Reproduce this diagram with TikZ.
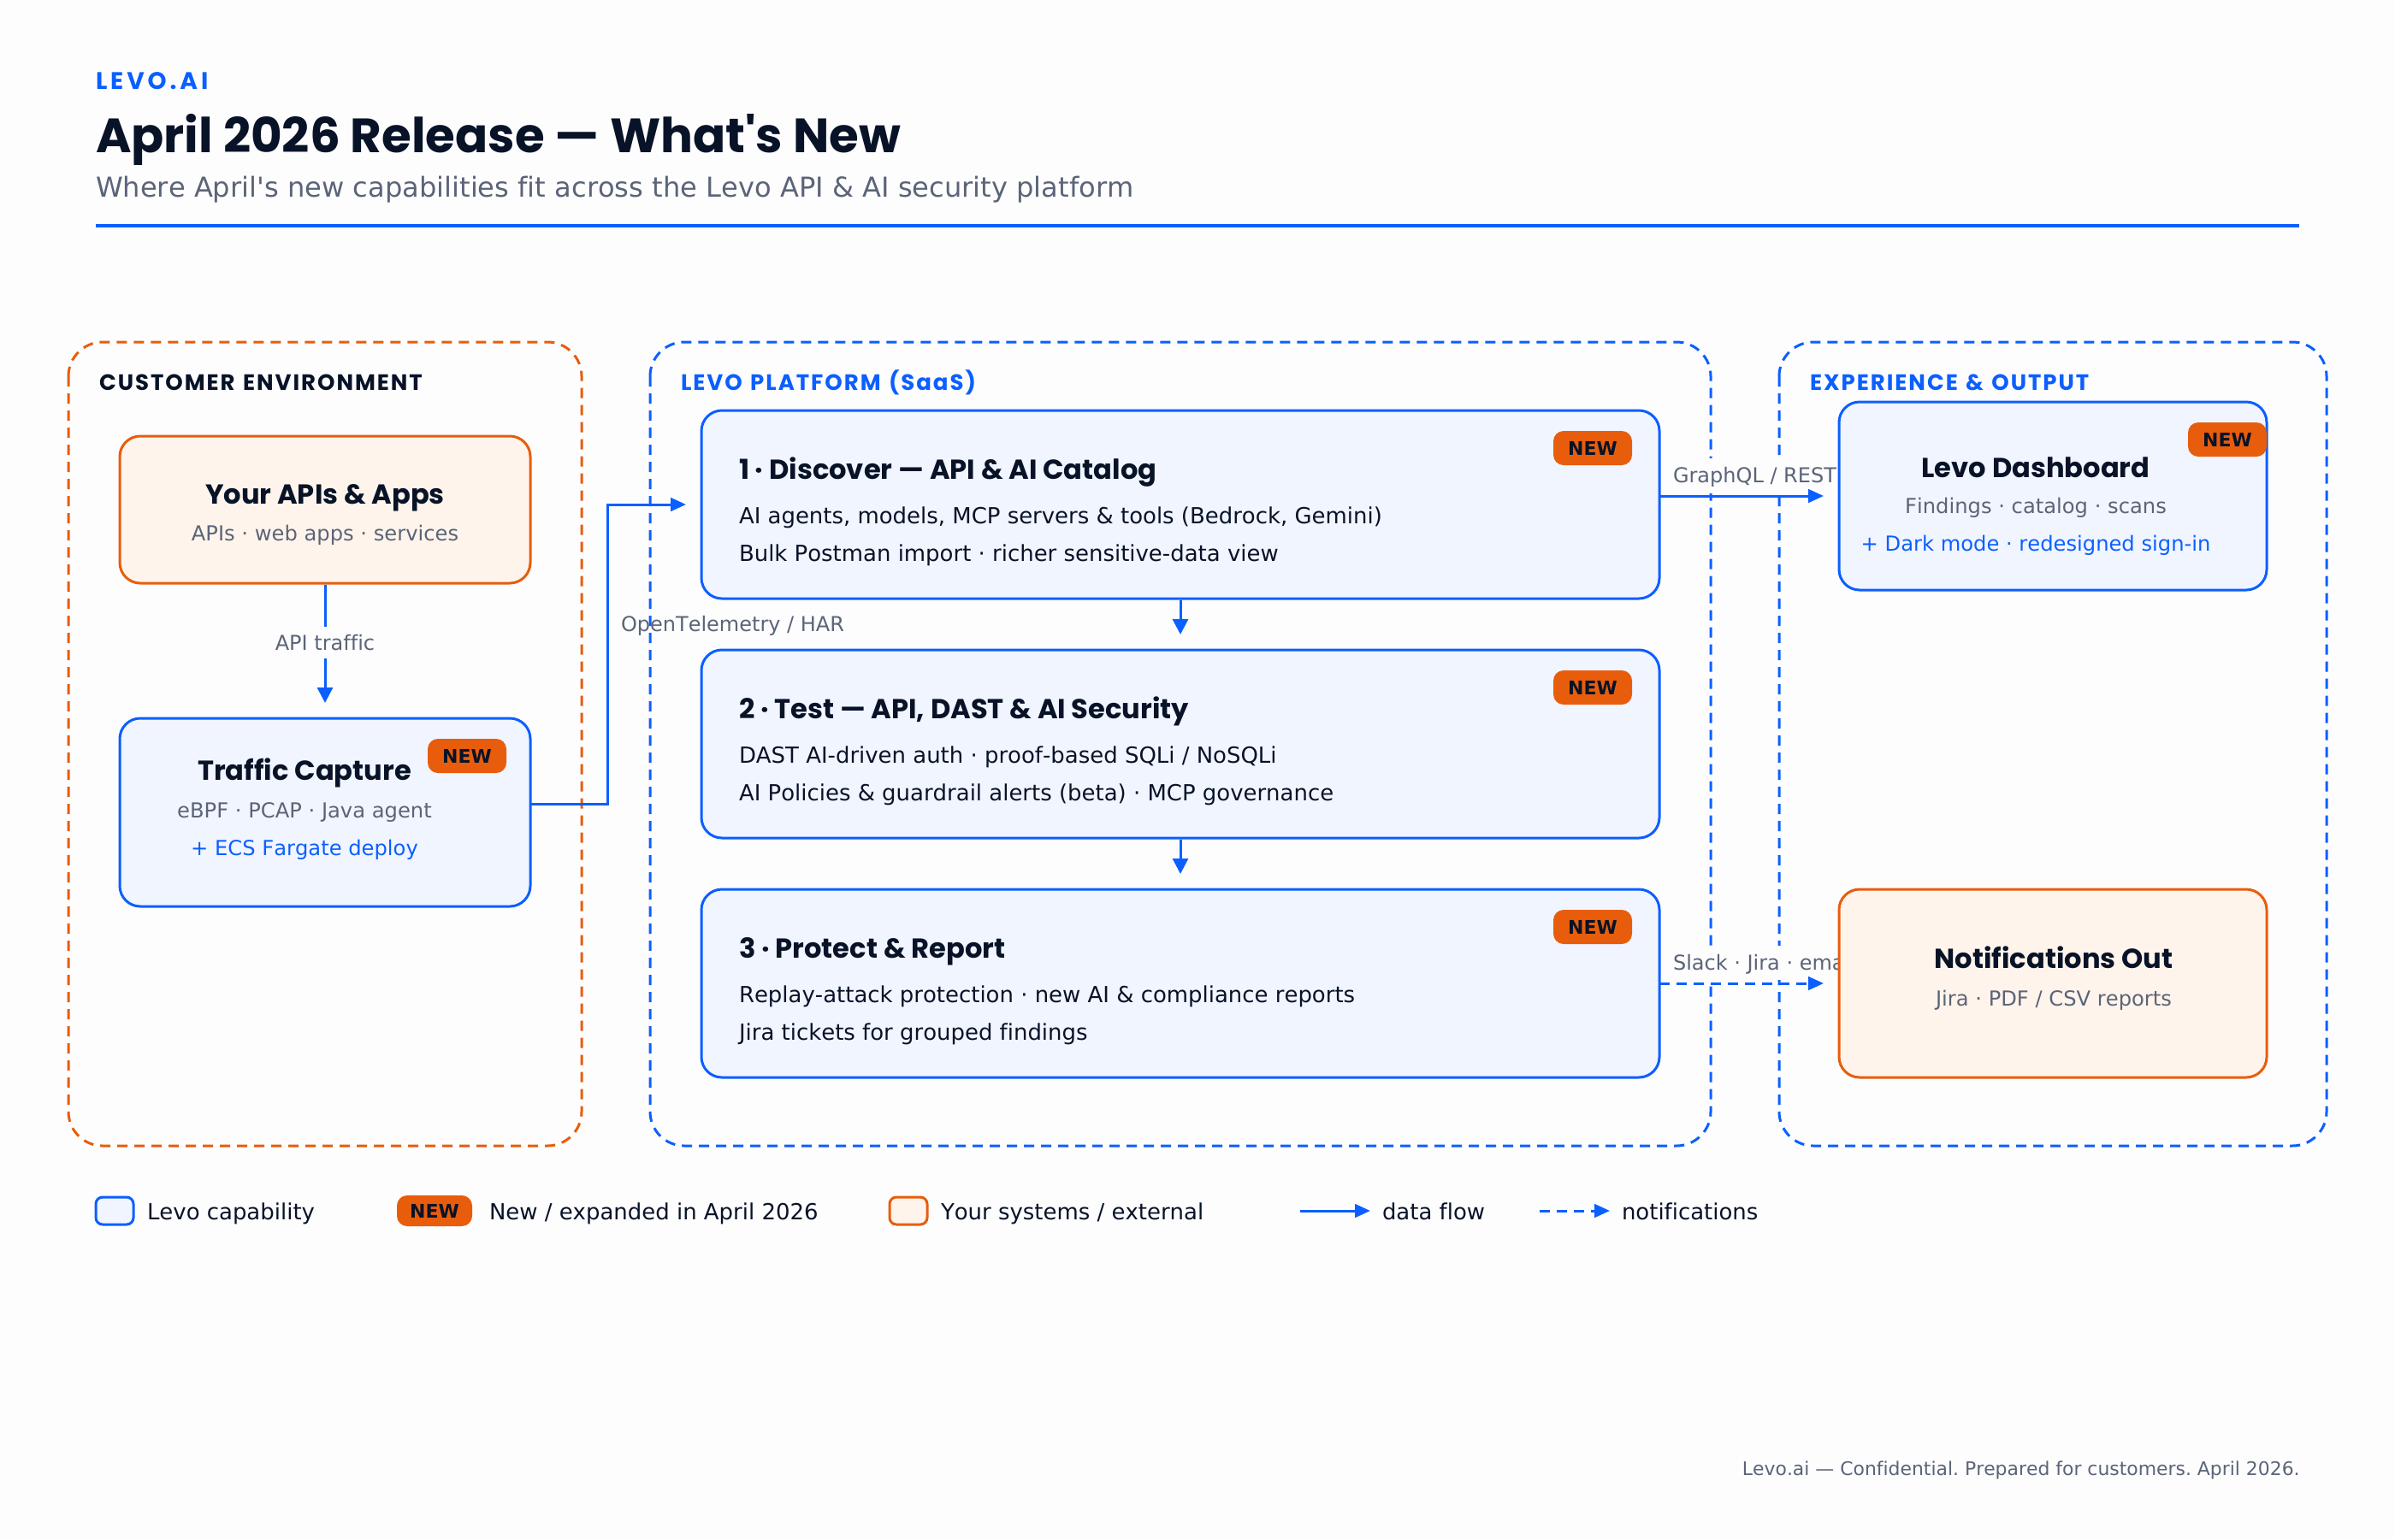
\documentclass[tikz,border=0pt]{standalone}
\usepackage{fontspec}
\newfontfamily\dv{DejaVu Sans}[Ligatures=CommonOff,Kerning=Off]
\newfontfamily\pop{Poppins}[BoldFont={* Bold},BoldFeatures={Kerning=Off}]
\newfontfamily\newf{DejaVu Sans Bold}
\newfontfamily\popsp{Poppins Bold}[LetterSpace=7.6,Kerning=Off,WordSpace=1.25]
\newfontfamily\popwide{Poppins Bold}[LetterSpace=14]
\AtBeginDocument{\dv\frenchspacing}
\usetikzlibrary{arrows.meta}
\definecolor{blue}{HTML}{0B5FFF}
\definecolor{orng}{HTML}{E85D0C}
\definecolor{bfill}{HTML}{F1F5FF}
\definecolor{ofill}{HTML}{FFF4EB}
\definecolor{ink}{HTML}{081328}
\definecolor{grey}{HTML}{5B6478}
\definecolor{bg}{HTML}{FDFDFE}
\tikzset{
  x=1pt,y=-1pt,
  grp/.style={draw,line width=1.5pt,dash pattern=on 6pt off 4pt,rounded corners=20pt},
  bbox/.style={draw=blue,fill=bfill,line width=1.5pt,rounded corners=12pt,inner sep=0pt},
  obox/.style={draw=orng,fill=ofill,line width=1.5pt,rounded corners=12pt,inner sep=0pt},
  badge/.style={fill=orng,rounded corners=6pt,inner sep=0pt},
  txt/.style={anchor=base west,inner sep=0pt,outer sep=0pt},
  ctr/.style={anchor=base,inner sep=0pt,outer sep=0pt},
  body/.style={font=\fontsize{12.97}{15}\selectfont,text=ink},
  sub/.style={font=\fontsize{12.1}{15}\selectfont,text=grey},
  add/.style={font=\fontsize{12.1}{15}\selectfont,text=blue},
  lab/.style={font=\fontsize{12}{15}\selectfont,text=grey},
  ttl/.style={font=\fontsize{16.06}{19}\pop\bfseries\selectfont,text=ink},
  head/.style={font=\fontsize{13}{15}\popsp\selectfont},
  newt/.style={anchor=center,inner sep=0pt,font=\fontsize{11}{13}\newf\selectfont,text=ink},
  flow/.style={draw=blue,line width=1.5pt,-{Triangle[length=9pt,width=7.8pt]}},
  flowv/.style={draw=blue,line width=1.5pt,-{Triangle[length=9pt,width=9pt]}},
  flowd/.style={flow,dash pattern=on 6pt off 4pt},
  swatch/.style={line width=1.5pt,rounded corners=4pt,minimum width=22pt,minimum height=16pt,inner sep=0pt},
}
\newcommand{\newbadge}[3]{%
  \node[badge,minimum width=46pt,minimum height=20pt] (#1) at (#2,#3) {};
  \node[newt] at (#1.center) {NEW};}
\begin{document}
\begin{tikzpicture}
\useasboundingbox[fill=bg] (0,0) rectangle (1400,900);
% header
\node[txt,text=blue,font=\fontsize{14}{16}\popwide\selectfont] (brand) at (56,52) {LEVO.AI};
\node[txt,text=ink,font=\fontsize{28.16}{34}\pop\bfseries\selectfont] (title) at (56,89) {April 2026 Release — What's New};
\node[txt,text=grey,font=\fontsize{16.06}{19}\selectfont] (subt) at (56,115) {Where April's new capabilities fit across the Levo API \& AI security platform};
\coordinate (ruleL) at (56,132);
\coordinate (ruleR) at (1344,132);
\draw[blue,line width=2pt] (ruleL) -- (ruleR);
% label under the platform frame
\node[txt,lab] (lb1) at (363,369) {OpenTelemetry / HAR};
% groups
\draw[grp,draw=orng] (40,200) rectangle (340,670);
\draw[grp,draw=blue] (380,200) rectangle (1000,670);
\draw[grp,draw=blue] (1040,200) rectangle (1360,670);
\node[txt,head,text=ink] (g1) at (58,228) {CUSTOMER ENVIRONMENT};
\node[txt,head,text=blue] (g2) at (398,228) {LEVO PLATFORM (SaaS)};
\node[txt,head,text=blue] (g3) at (1058,228) {EXPERIENCE \& OUTPUT};
% labels over the frames, clipped by the later boxes
\fill[bg] (974,268) rectangle (1078,288.5);
\fill[bg] (974,553) rectangle (1078,573);
\node[txt,lab] (lb2) at (978,282) {GraphQL / REST};
\node[txt,lab] (lb3) at (978,567) {Slack · Jira · email};
% connectors across frames
\coordinate (a1) at (401,295);
\coordinate (d1) at (1066,290);
\coordinate (d2) at (1066,575);
\coordinate (tc) at (310,470);
\coordinate (m1) at (355,470);
\coordinate (m2) at (355,295);
\coordinate (s1) at (970,290);
\coordinate (s2) at (970,575);
\draw[flow] (tc) -- (m1) -- (m2) -- (a1);
\draw[flow] (s1) -- (d1);
\draw[flowd] (s2) -- (d2);
% customer
\node[obox,minimum width=240pt,minimum height=86pt] (apps) at (190,298) {};
\node[ctr,ttl] at (190,294.5) {Your APIs \& Apps};
\node[ctr,sub] at (190,316) {APIs · web apps · services};
\node[bbox,minimum width=240pt,minimum height=110pt] (cap) at (190,475) {};
\node[ctr,ttl] at (178,456) {Traffic Capture};
\node[ctr,sub] at (178,478) {eBPF · PCAP · Java agent};
\node[ctr,add] at (178,500) {+ ECS Fargate deploy};
\newbadge{b0}{273}{442}
\coordinate (capT) at (190,411);
\draw[flowv] (apps.south) -- (capT);
\node[fill=bg,inner sep=0pt,minimum width=76pt,minimum height=18.4pt] (tlbg) at (190,375.8) {};
\node[ctr,lab] (tl) at (190,380) {API traffic};
% platform
\node[bbox,minimum width=560pt,minimum height=110pt] (p1) at (690,295) {};
\node[bbox,minimum width=560pt,minimum height=110pt] (p2) at (690,435) {};
\node[bbox,minimum width=560pt,minimum height=110pt] (p3) at (690,575) {};
\newbadge{b1}{931}{262}
\newbadge{b2}{931}{402}
\newbadge{b3}{931}{542}
\node[txt,ttl] at (432,280.4) {1 · Discover — API \& AI Catalog};
\node[txt,body] at (432,306) {AI agents, models, MCP servers \& tools (Bedrock, Gemini)};
\node[txt,body] at (432,328) {Bulk Postman import · richer sensitive-data view};
\node[txt,ttl] at (432,420.4) {2 · Test — API, DAST \& AI Security};
\node[txt,body] at (432,446) {DAST AI-driven auth · proof-based SQLi / NoSQLi};
\node[txt,body] at (432,468) {AI Policies \& guardrail alerts (beta) · MCP governance};
\node[txt,ttl] at (432,560.4) {3 · Protect \& Report};
\node[txt,body] at (432,586) {Replay-attack protection · new AI \& compliance reports};
\node[txt,body] at (432,608) {Jira tickets for grouped findings};
\coordinate (p1T) at (690,371);
\coordinate (p2T) at (690,511);
\draw[flowv] (p1.south) -- (p1T);
\draw[flowv] (p2.south) -- (p2T);
% experience
\node[bbox,minimum width=250pt,minimum height=110pt] (dash) at (1200,290) {};
\newbadge{b4}{1302}{257}
\node[ctr,ttl] at (1190,279) {Levo Dashboard};
\node[ctr,sub] at (1190,300) {Findings · catalog · scans};
\node[ctr,add] at (1190,322) {+ Dark mode · redesigned sign-in};
\node[obox,minimum width=250pt,minimum height=110pt] (noti) at (1200,575) {};
\node[ctr,ttl] at (1200.5,566) {Notifications Out};
\node[ctr,sub] at (1200.5,588) {Jira · PDF / CSV reports};
% legend
\node[swatch,draw=blue,fill=bfill] (s1l) at (67,708) {};
\node[txt,body] at (86,713) {Levo capability};
\node[badge,minimum width=44pt,minimum height=18pt] (s2l) at (254,708) {};
\node[newt] at (s2l.center) {NEW};
\node[txt,body] at (286,713) {New / expanded in April 2026};
\node[swatch,draw=orng,fill=ofill] (s3l) at (531,708) {};
\node[txt,body] at (550,713) {Your systems / external};
\coordinate (l1a) at (760,708);
\coordinate (l1b) at (801,708);
\coordinate (l2a) at (900,708);
\coordinate (l2b) at (941,708);
\draw[flow] (l1a) -- (l1b);
\draw[flowd] (l2a) -- (l2b);
\node[txt,body] at (808,713) {data flow};
\node[txt,body] at (948,713) {notifications};
% footer
\node[anchor=base east,inner sep=0pt,text=grey,font=\fontsize{10.95}{14}\selectfont] (foot) at (1344.5,862.5) {Levo.ai — Confidential. Prepared for customers. April 2026.};
\end{tikzpicture}
\end{document}
